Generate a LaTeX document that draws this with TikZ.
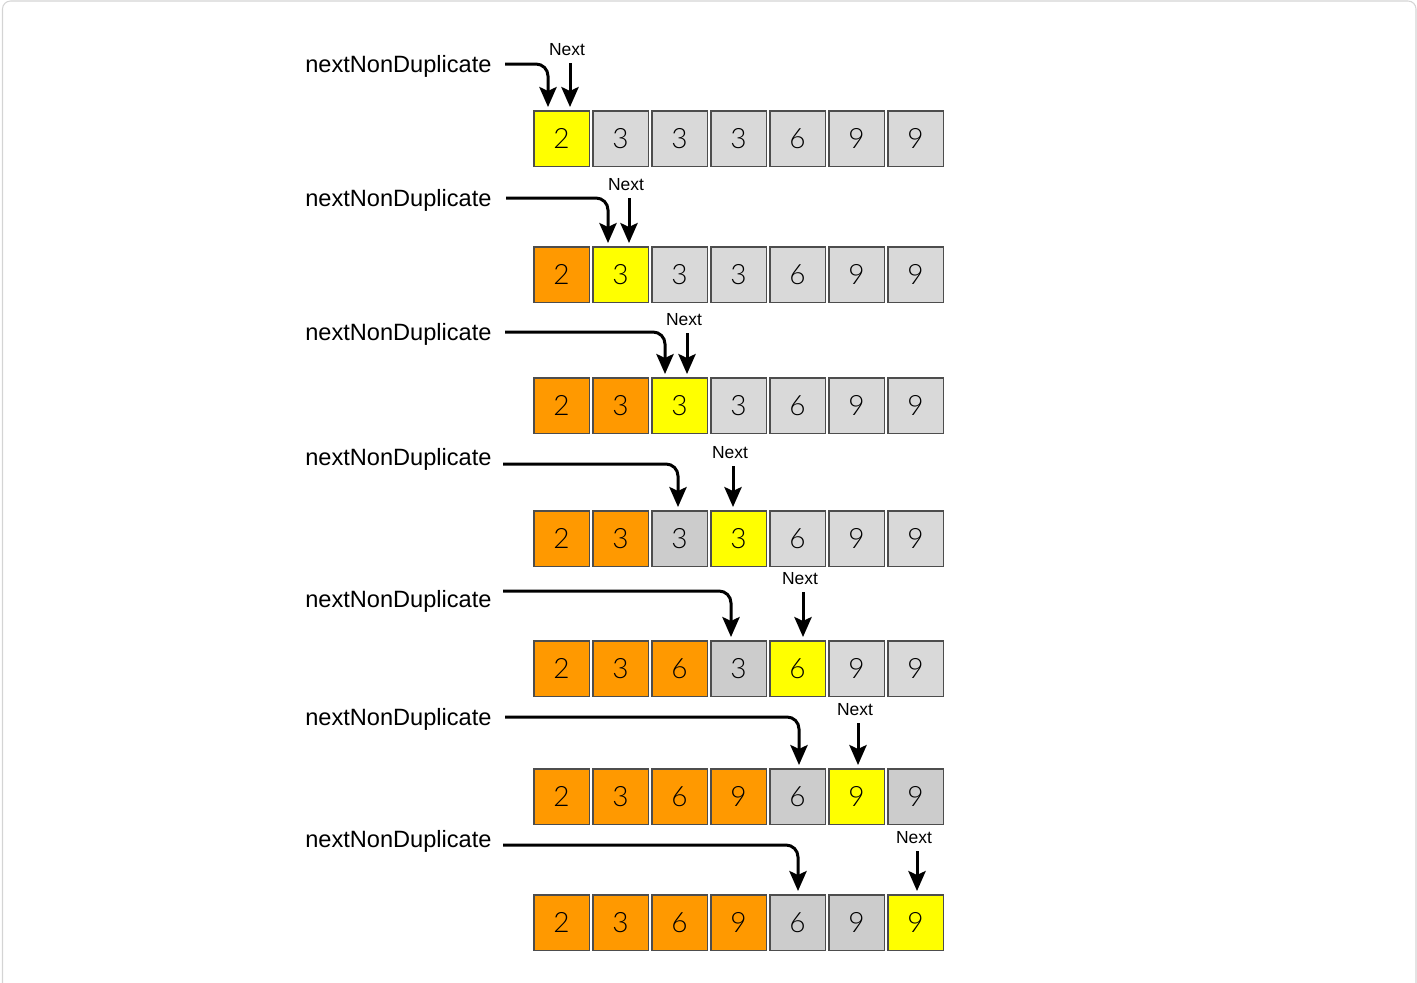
\documentclass[tikz,border=0pt]{standalone}
\usepackage{fontspec}
\setmainfont{Liberation Sans}
\newfontfamily\digitfont{Lato Light}
\usetikzlibrary{arrows.meta}
\definecolor{cellY}{HTML}{FFFF00}
\definecolor{cellO}{HTML}{FF9900}
\definecolor{cellL}{HTML}{D9D9D9}
\definecolor{cellD}{HTML}{CCCCCC}
\definecolor{cellborder}{HTML}{4D4D4D}
\definecolor{framegray}{HTML}{D4D4D4}
\begin{document}
\begin{tikzpicture}[x=0.75pt,y=-0.75pt,
  cell/.style={draw=cellborder,line width=1.1pt,minimum size=41.6pt,inner sep=0pt,
    font=\digitfont\fontsize{21}{24}\selectfont,text=black},
  lbl/.style={inner sep=0pt,font=\fontsize{17.7}{20}\selectfont},
  nextlbl/.style={inner xsep=0pt,inner ysep=5pt,font=\fontsize{13.1}{15}\selectfont},
  ptr/.style={line width=2.25pt,-{Stealth[length=15pt,width=13pt,inset=3pt]}}]
\useasboundingbox (0,0) rectangle (1417,982);
\draw[framegray,line width=0.8pt,rounded corners=6pt] (2.5,1) rectangle (1416,995);
\foreach \r/\cy/\ly/\lny/\sx/\tx/\nx/\nly/\cells in {
 1/138.5/66/64/505/548/570/50/{Y/2,L/3,L/3,L/3,L/6,L/9,L/9},
 2/274.5/200/198/506/608/629/185/{O/2,Y/3,L/3,L/3,L/6,L/9,L/9},
 3/405.5/334/332/505/665/687/320/{O/2,O/3,Y/3,L/3,L/6,L/9,L/9},
 4/538.5/459/464/503/678/733/453/{O/2,O/3,D/3,Y/3,L/6,L/9,L/9},
 5/668.5/601/591/503/731/803/579/{O/2,O/3,O/6,D/3,Y/6,L/9,L/9},
 6/796.5/719/717/505/799/858/710/{O/2,O/3,O/6,O/9,D/6,Y/9,D/9},
 7/922.5/841/845/503/798/917/838/{O/2,O/3,O/6,O/9,D/6,D/9,Y/9}}{
  \node[lbl,anchor=west] (lbl\r) at (305,\ly) {nextNonDuplicate};
  \foreach \c/\d [count=\i] in \cells {
    \node[cell,fill=cell\c] (c\r-\i) at ({561.5+59*(\i-1)},\cy) {\d};
  }
  \node[nextlbl] (nx\r) at (\nx-3,\nly) {Next};
  \coordinate (s\r) at (\sx,\lny);
  \coordinate (t\r) at (\tx,\cy-31.5);
  \coordinate (n\r) at (\nx,\cy-31.5);
  \draw[ptr,rounded corners=9pt] (s\r) -| (t\r);
  \draw[ptr] ([xshift=2.25pt]nx\r.south) -- (n\r);
}
\end{tikzpicture}
\end{document}
